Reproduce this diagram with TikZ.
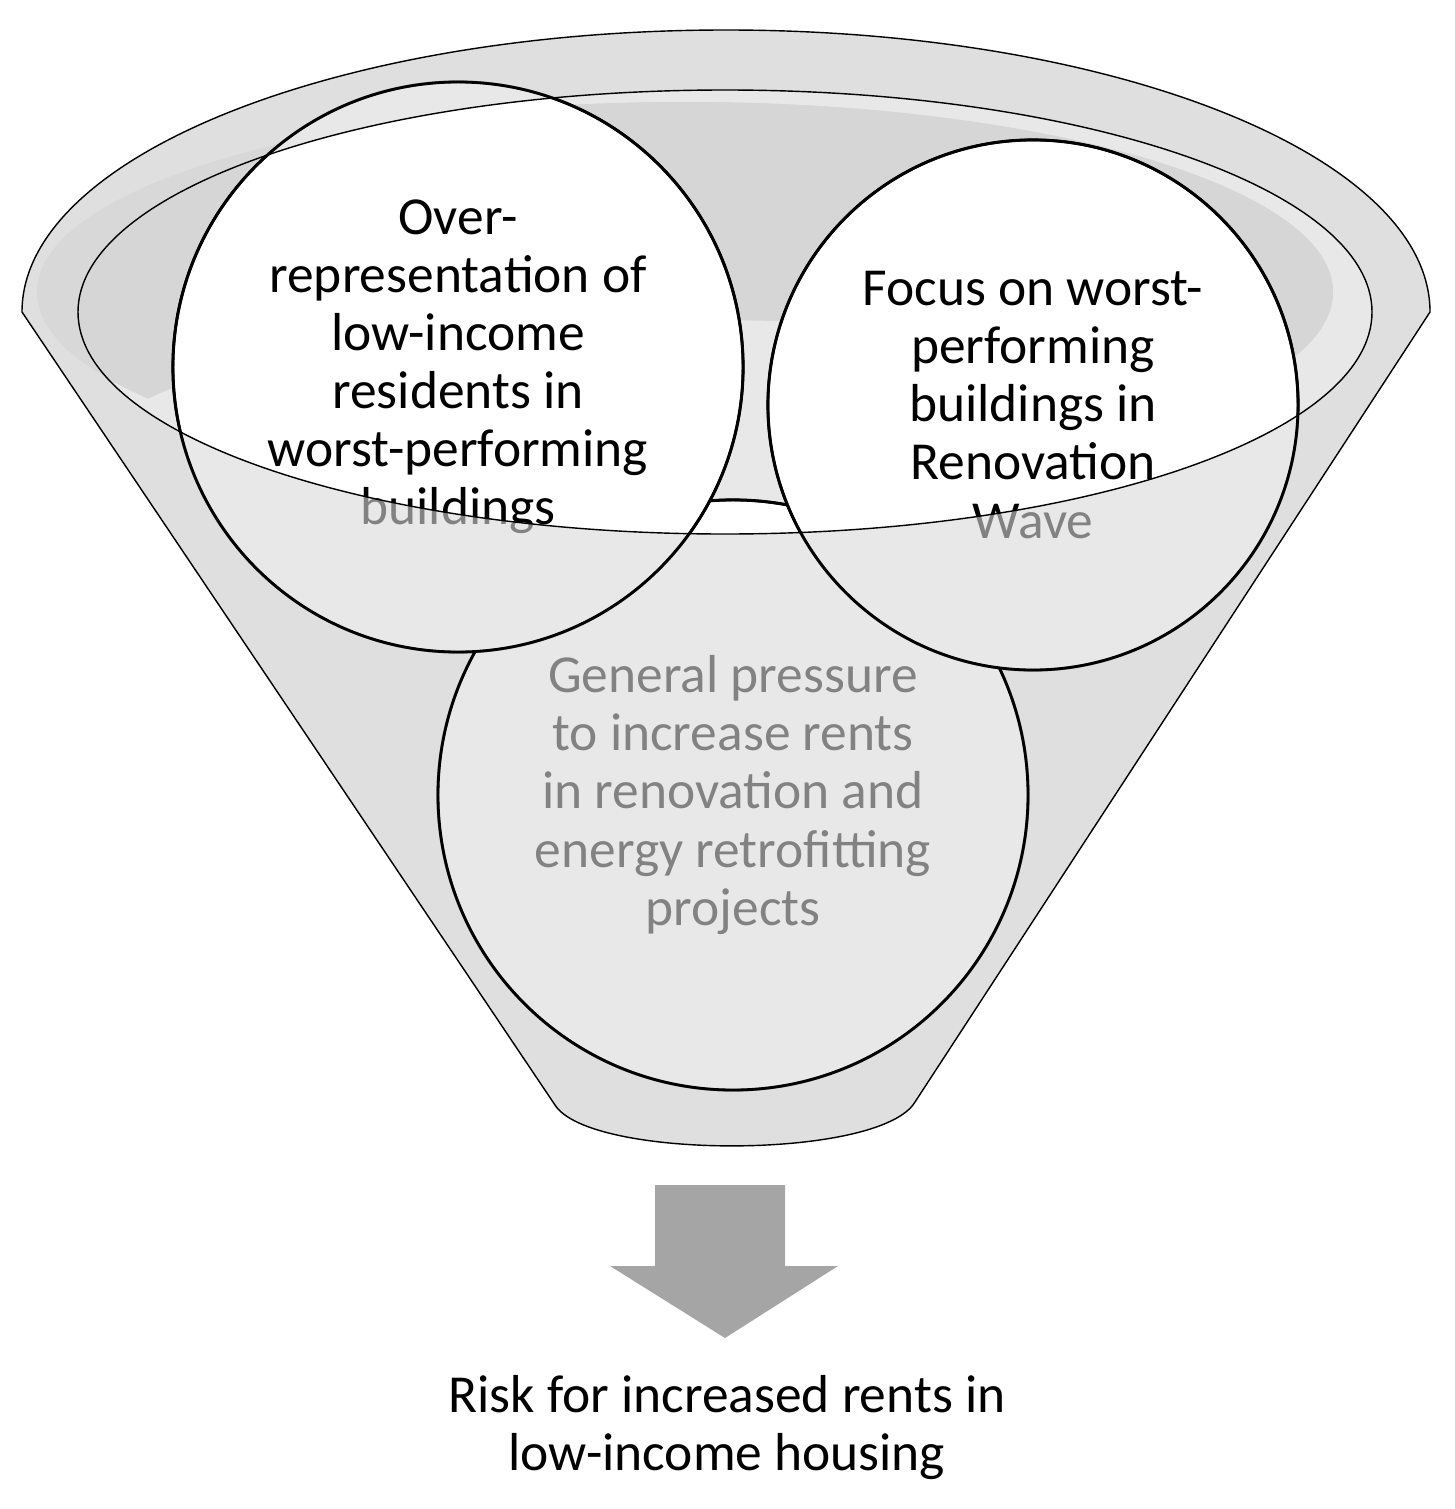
\documentclass[tikz,border=0pt]{standalone}
\usepackage{fontspec}
\setmainfont{Carlito}
\usetikzlibrary{positioning}
\definecolor{funnelgray}{RGB}{232,232,232}
\definecolor{frontgray}{RGB}{218,218,218}
\definecolor{rimdark}{RGB}{214,214,214}
\definecolor{arrowgray}{RGB}{165,165,165}
\begin{document}
\begin{tikzpicture}[x=0.01cm, y=-0.01cm,
    circ/.style={circle, align=center, font=\fontsize{15.2}{16.5}\selectfont},
    label/.style={align=center, font=\fontsize{15.2}{16.5}\selectfont}]
  \useasboundingbox (0,0) rectangle (1454,1509);
  % funnel body
  \def\funnel{(22,312) arc[start angle=180, end angle=360, x radius=704, y radius=282] -- (915,1102) .. controls (880,1160) and (590,1160) .. (555,1105) -- cycle}
  \fill[funnelgray] \funnel;
  \fill[rimdark] (685,292) ellipse[x radius=648, y radius=190];
  \begin{scope}
    \clip (725,312) ellipse[x radius=647, y radius=222];
    \fill[rimdark] (685,292) ellipse[x radius=648, y radius=190];
    \fill[funnelgray] (700,450) ellipse[x radius=600, y radius=130];
  \end{scope}
  % circles
  \node[circ, fill=white, draw, thick, minimum size=5.9cm] (press) at (733,795) {};
  \node[circ, fill=white, draw, thick, minimum size=5.7cm] (over) at (458,367) {};
  \node[circ, fill=white, draw, thick, minimum size=5.3cm] (focus) at (1033,405) {};
  \node[label] at (over.center) {Over-\\representation of\\low-income\\residents in\\worst-performing\\buildings};
  \node[label] at (focus.center) {Focus on worst-\\performing\\buildings in\\Renovation\\Wave};
  \node[label] at (press.center) {General pressure\\to increase rents\\in renovation and\\energy retrofitting\\projects};
  % front of the funnel over the circles
  \fill[frontgray, opacity=0.6, even odd rule] \funnel (725,312) ellipse[x radius=647, y radius=222];
  \draw[thin] \funnel;
  \draw[thin] (725,312) ellipse[x radius=647, y radius=222];
  \begin{scope}
    \clip (0,0) rectangle (1454,1509) (over) circle[radius=286] (focus) circle[radius=266];
    \draw[thick] (press) circle[radius=295];
  \end{scope}
  \draw[thick] (over) circle[radius=285] (focus) circle[radius=265];
  % arrow
  \fill[arrowgray] (655,1185) -- (785,1185) -- (785,1266) -- (838,1266) -- (725,1338) -- (610,1266) -- (655,1266) -- cycle;
  \node[label] (risk) at (727,1428) {Risk for increased rents in\\low-income housing};
\end{tikzpicture}
\end{document}
